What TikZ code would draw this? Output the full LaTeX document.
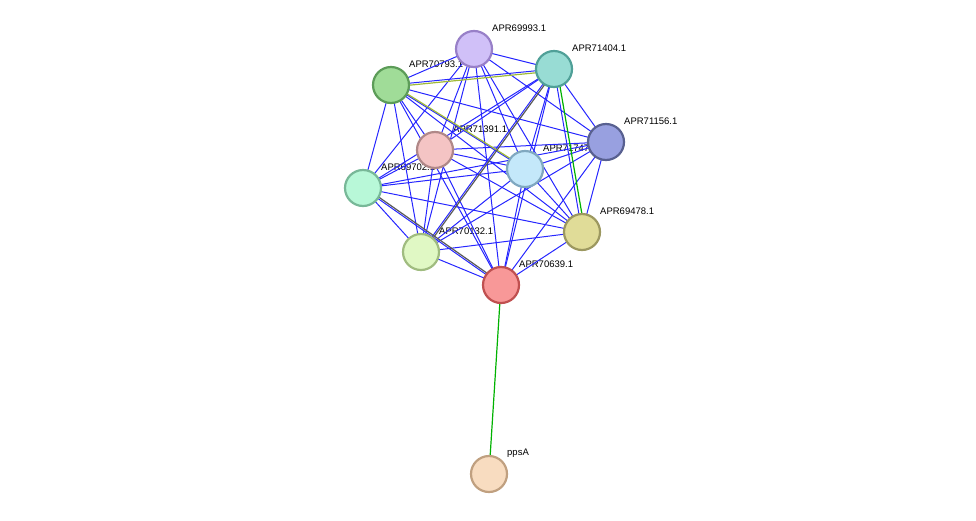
\documentclass[tikz,border=0pt]{standalone}
\usepackage{fontspec}
\setmainfont{Liberation Sans}
\begin{document}
\begin{tikzpicture}[x=1pt,y=-1pt,
  nd/.style={circle,minimum size=36pt,inner sep=0pt,line width=2.2pt},
  lb/.style={anchor=west,font=\fontsize{9.5}{11}\selectfont,inner sep=0pt},
  e/.style={blue!85!white,line width=1pt},
  yg/.style={draw=yellow!70!green!80!black,line width=1.2pt},
  gr/.style={draw=green!70!black,line width=1.2pt},
  dk/.style={draw=black!65,line width=1.2pt}]
\useasboundingbox (0,0) rectangle (976,520);
\def\P{
a/474/49/APR69993.1/D0C0F8/9880C8,
b/554/69/APR71404.1/98DCD4/50A098,
c/391/85/APR70793.1/A0DC98/5C9C58,
d/606/142/APR71156.1/98A0E0/586090,
f/435/150/APR71391.1/F4C4C4/B08888,
g/525/169/APR71747.1/C4E8FA/80A8C0,
h/363/188/APR69702.1/B8F8D8/78B898,
i/582/232/APR69478.1/E0DC98/9C9860,
j/421/252/APR70132.1/E0F8C4/A0BC80,
k/501/285/APR70639.1/F89898/C05050,
p/489/474/ppsA/F8DCC0/C0A080}
\foreach \n/\x/\y/\t/\fc/\dc in \P {
  \coordinate (\n) at (\x,\y);
  \node[lb] (l\n) at (\x+18,\y-21) {\t};
}
\foreach \u/\v in {a/b,a/c,a/d,a/f,a/g,a/h,a/i,a/j,a/k,
 b/c,b/d,b/f,b/g,b/h,b/i,b/j,b/k,
 c/d,c/f,c/g,c/h,c/i,c/j,c/k,
 d/f,d/g,d/h,d/i,d/j,d/k,
 f/g,f/h,f/i,f/j,f/k,
 g/h,g/i,g/j,g/k,
 h/i,h/j,h/k,
 i/j,i/k,j/k}
  \draw[e] (\u) -- (\v);
\draw[yg] ([yshift=-2pt]c) -- ([yshift=-2pt]b);
\draw[yg] ([xshift=2pt]c) -- ([xshift=2pt]g);
\draw[gr] ([xshift=3pt]b) -- ([xshift=3pt]i);
\draw[dk] ([xshift=2pt]b) -- ([xshift=2pt]j);
\draw[dk] ([yshift=2pt]h) -- ([yshift=2pt]k);
\draw[gr] (k) -- (p);
\foreach \n/\x/\y/\t/\fc/\dc in \P {
  \definecolor{fc}{HTML}{\fc}\definecolor{dc}{HTML}{\dc}
  \node[nd,fill=fc,draw=dc] (n\n) at (\x,\y) {};
}
\end{tikzpicture}
\end{document}
